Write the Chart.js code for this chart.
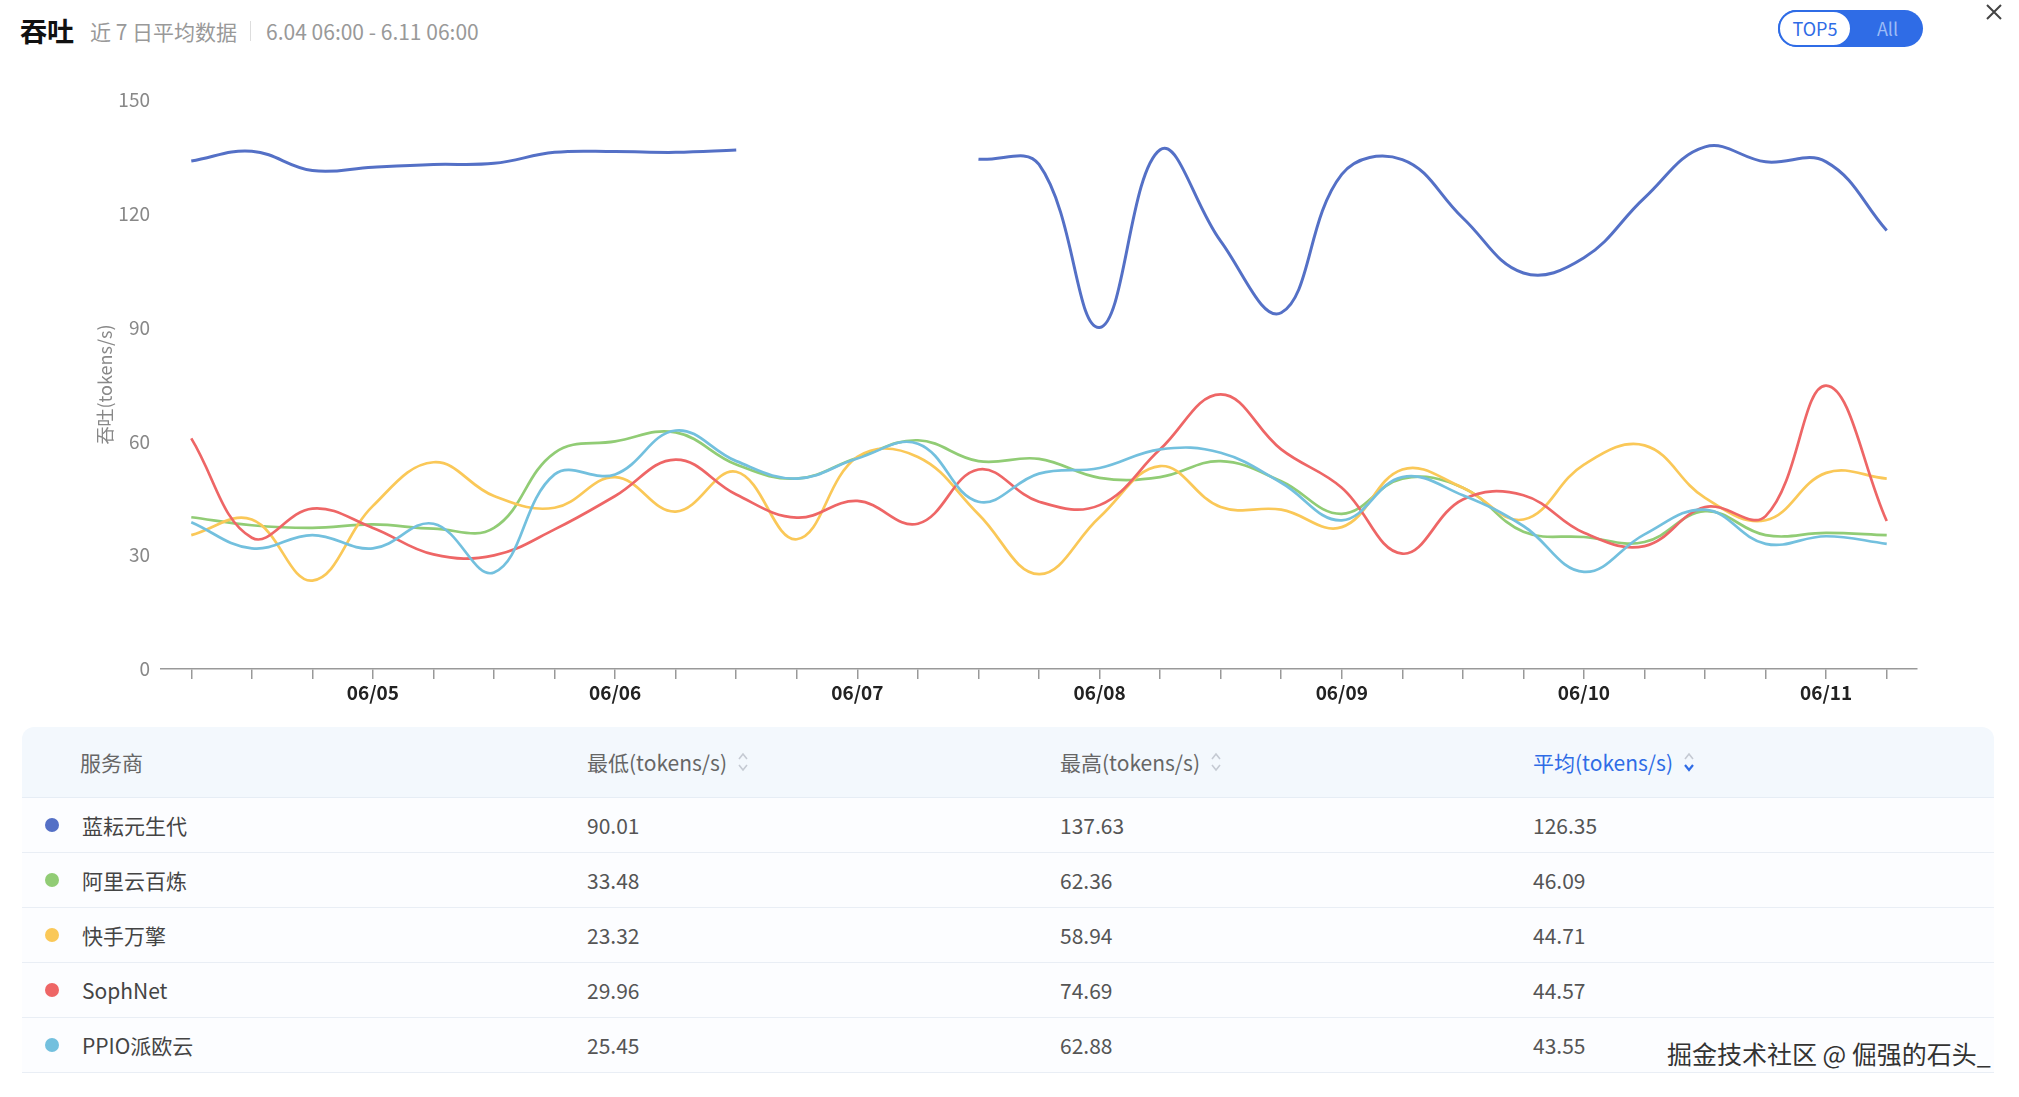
<!DOCTYPE html>
<html>
<head>
<meta charset="utf-8">
<script src="https://cdn.jsdelivr.net/npm/chart.js@4.4.1/dist/chart.umd.min.js"></script>
<style>
  body { margin: 0; background: #fff; font-family: "Noto Sans CJK SC", "Noto Sans", sans-serif; width: 2019px; height: 1097px; position: relative; overflow: hidden; }
  .title { position: absolute; left: 20px; top: 9px; height: 38px; line-height: 38px; white-space: nowrap; }
  .title b { font-size: 27px; color: #111; font-weight: 700; margin-right: 16px; vertical-align: middle; }
  .title span { font-size: 21px; color: #999; vertical-align: middle; }
  .title .sep { display: inline-block; width: 1px; height: 20px; background: #ddd; margin: 0 15px 0 13px; vertical-align: middle; }
  .toggle { position: absolute; left: 1778px; top: 10px; width: 145px; height: 37px; border-radius: 19px; background: #2f6ce6; }
  .toggle .on { position: absolute; left: 0; top: 0; width: 70px; height: 33px; border: 2px solid #2f6ce6; border-radius: 19px; background: #fff; color: #2f6ce6; font-size: 18px; line-height: 33px; text-align: center; }
  .toggle .off { position: absolute; left: 74px; top: 0; width: 71px; height: 37px; line-height: 37px; text-align: center; color: #9dbcf6; font-size: 18px; }
  .close { position: absolute; left: 1985px; top: 3px; }
  #wrap { position: absolute; left: 0; top: 60px; width: 1960px; height: 660px; }
  .table { position: absolute; left: 22px; top: 727px; width: 1972px; }
  .thead { height: 70px; background: #f3f8fd; border-radius: 12px 12px 0 0; border-bottom: 1px solid #e6edf5; position: relative; }
  .row { height: 54px; border-bottom: 1px solid #e9eef5; background: #fcfdff; position: relative; }
  .cell { position: absolute; top: 0; height: 100%; display: flex; align-items: center; font-size: 21px; color: #555; white-space: nowrap; }
  .thead .cell { color: #666; }
  .thead .cell.active { color: #2f6ce6; }
  .dot { position: absolute; left: 23px; top: 50%; width: 14px; height: 14px; margin-top: -7px; border-radius: 50%; }
  .sort { margin-left: 10px; }
  .mark { position: absolute; left: 1667px; top: 1035px; font-size: 25px; color: #333; white-space: nowrap; text-shadow: 0 0 2px #fff, 0 0 2px #fff; }
</style>
</head>
<body>
<div class="title"><b>吞吐</b><span>近 7 日平均数据</span><span class="sep"></span><span>6.04 06:00 - 6.11 06:00</span></div>
<div class="toggle"><div class="on">TOP5</div><div class="off">All</div></div>
<svg class="close" width="18" height="18" viewBox="0 0 18 18"><path d="M2 2 L16 16 M16 2 L2 16" stroke="#444" stroke-width="2" fill="none"/></svg>
<div id="wrap"><canvas id="throughputChart"></canvas></div>
<div class="table" id="table"></div>
<div class="mark">掘金技术社区 @ 倔强的石头_</div>
<script>
var labels = [
  "06/04 06:00", "06/04 12:00", "06/04 18:00",
  "06/05 00:00", "06/05 06:00", "06/05 12:00", "06/05 18:00",
  "06/06 00:00", "06/06 06:00", "06/06 12:00", "06/06 18:00",
  "06/07 00:00", "06/07 06:00", "06/07 12:00", "06/07 18:00",
  "06/08 00:00", "06/08 06:00", "06/08 12:00", "06/08 18:00",
  "06/09 00:00", "06/09 06:00", "06/09 12:00", "06/09 18:00",
  "06/10 00:00", "06/10 06:00", "06/10 12:00", "06/10 18:00",
  "06/11 00:00", "06/11 06:00"
];

var providers = ["蓝耘元生代", "阿里云百炼", "快手万擎", "SophNet", "PPIO派欧云"];
var colors = ["#5470c6", "#91cc75", "#fac858", "#ee6666", "#73c0de"];

var lanyun = [133.9, 136.5, 131.4, 132.3, 133.0, 133.3, 136.2, 136.4, 136.2, 136.8, null, null, null, 134.4, 133.0,
  90.01, 136.9, 112.8, 93.9, 130.4, 134.3, 118.9, 104.4, 108.4, 124.2, 137.63, 133.7, 133.7, 115.6];
var aliyun = [40.0, 37.9, 37.2, 38.1, 37.0, 37.2, 57.0, 60.0, 62.36, 53.9, 50.2, 55.7, 60.3, 54.8, 55.4,
  50.4, 50.6, 54.8, 49.5, 40.9, 50.2, 47.8, 36.2, 34.8, 33.48, 41.6, 35.3, 35.9, 35.3];
var kuaishou = [35.3, 39.4, 23.32, 43.0, 54.5, 45.6, 42.5, 50.6, 41.5, 52.0, 34.2, 55.9, 55.9, 40.8, 25.0,
  40.0, 53.5, 42.7, 42.0, 37.4, 52.6, 47.8, 39.4, 53.9, 58.94, 45.1, 39.2, 51.7, 50.2];
var sophnet = [60.8, 34.6, 42.3, 37.2, 30.2, 29.96, 36.8, 45.6, 55.2, 46.0, 39.9, 44.3, 38.3, 52.6, 44.1,
  43.2, 57.9, 72.4, 57.9, 47.8, 30.4, 44.7, 45.8, 35.9, 32.4, 42.7, 40.3, 74.69, 39.0];
var ppio = [38.7, 31.8, 35.3, 31.8, 38.3, 25.45, 51.3, 51.3, 62.88, 54.8, 50.2, 55.5, 59.4, 44.1, 51.5,
  53.0, 57.9, 57.0, 49.1, 39.2, 50.6, 45.8, 37.7, 25.6, 35.5, 42.0, 33.0, 35.0, 33.0];

var minValues = ["90.01", "33.48", "23.32", "29.96", "25.45"];
var maxValues = ["137.63", "62.36", "58.94", "74.69", "62.88"];
var avgValues = ["126.35", "46.09", "44.71", "44.57", "43.55"];

var yTicks = [0, 30, 60, 90, 120, 150];

var series = [lanyun, aliyun, kuaishou, sophnet, ppio];
var font = '"Noto Sans CJK SC", "Noto Sans", sans-serif';

var datasets = series.map(function (s, i) {
  return {
    label: providers[i],
    data: s,
    borderColor: colors[i],
    backgroundColor: colors[i],
    borderWidth: i === 0 ? 3 : 2.7,
    pointRadius: 0,
    tension: 0.4,
    fill: false,
    order: series.length - i
  };
});

new Chart(document.getElementById("throughputChart"), {
  type: "line",
  data: { labels: labels, datasets: datasets },
  options: {
    responsive: true,
    maintainAspectRatio: false,
    animation: false,
    devicePixelRatio: 1,
    layout: { padding: { left: 88, right: 43, top: 40, bottom: 0 } },
    plugins: { legend: { display: false }, tooltip: { enabled: false } },
    scales: {
      x: {
        offset: true,
        grid: { display: true, offset: false, drawOnChartArea: false, drawTicks: true, tickLength: 10, color: "#999", lineWidth: 1.5 },
        border: { display: true, color: "#999", width: 1.5 },
        ticks: {
          autoSkip: false,
          maxRotation: 0,
          padding: 2,
          color: "#222",
          font: { family: font, size: 19, weight: "bold" },
          callback: function (v, idx) {
            var l = labels[idx];
            return l.slice(6) === "00:00" ? l.slice(0, 5) : "";
          }
        },
        afterFit: function (scale) { scale.height = 51; }
      },
      y: {
        min: 0,
        max: 150,
        afterBuildTicks: function (scale) {
          scale.ticks = yTicks.map(function (v) { return { value: v }; });
        },
        grid: { display: false, drawTicks: false },
        border: { display: false },
        ticks: { padding: 11, color: "#888", font: { family: font, size: 19 } },
        title: { display: true, text: "吞吐(tokens/s)", color: "#888", font: { family: font, size: 18 }, padding: { top: 6, bottom: 4 } },
        afterFit: function (scale) { scale.width = 73; }
      }
    }
  }
});

// table under the chart
var sortIcon = function (active) {
  var up = "#c5cad3", down = active ? "#2f6ce6" : "#c5cad3";
  return '<svg class="sort" width="12" height="22" viewBox="0 0 12 22">' +
    '<path d="M2 8 L6 3 L10 8" stroke="' + up + '" stroke-width="1.6" fill="none"/>' +
    '<path d="M2 14 L6 19 L10 14" stroke="' + down + '" stroke-width="' + (active ? 2.2 : 1.6) + '" fill="none"/></svg>';
};
var colX = [58, 565, 1038, 1511];
var html = '<div class="thead">' +
  '<div class="cell" style="left:' + colX[0] + 'px">服务商</div>' +
  '<div class="cell" style="left:' + colX[1] + 'px">最低(tokens/s)' + sortIcon(false) + '</div>' +
  '<div class="cell" style="left:' + colX[2] + 'px">最高(tokens/s)' + sortIcon(false) + '</div>' +
  '<div class="cell active" style="left:' + colX[3] + 'px">平均(tokens/s)' + sortIcon(true) + '</div>' +
  '</div>';
providers.forEach(function (p, i) {
  html += '<div class="row"><span class="dot" style="background:' + colors[i] + '"></span>' +
    '<div class="cell" style="left:60px;color:#444">' + p + '</div>' +
    '<div class="cell" style="left:' + colX[1] + 'px">' + minValues[i] + '</div>' +
    '<div class="cell" style="left:' + colX[2] + 'px">' + maxValues[i] + '</div>' +
    '<div class="cell" style="left:' + colX[3] + 'px">' + avgValues[i] + '</div></div>';
});
document.getElementById("table").innerHTML = html;
</script>
</body>
</html>
